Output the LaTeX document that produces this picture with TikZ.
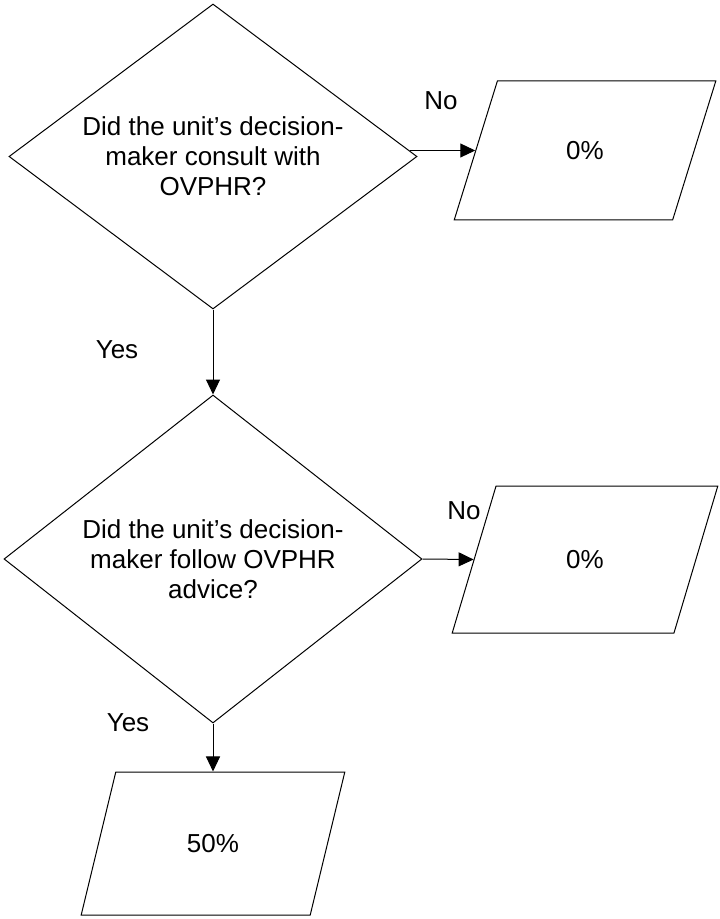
\documentclass[tikz,border=0pt]{standalone}
\usepackage{fontspec}
\setmainfont{Liberation Sans}
\usetikzlibrary{shapes.geometric,arrows.meta}
\tikzset{
  question/.style={diamond, draw=black, aspect=1.3, inner sep=0pt, align=center,
    font=\fontsize{13}{15}\selectfont},
  result/.style={trapezium, trapezium left angle=63.3, trapezium right angle=116.7,
    trapezium stretches=true, draw=black, inner sep=0pt, font=\fontsize{13}{15}\selectfont},
  answer/.style={font=\fontsize{13}{15}\selectfont},
  flow/.style={-{Triangle[length=7.5pt,width=7pt]}}
}
\begin{document}
\begin{tikzpicture}[x=0.5pt,y=-0.5pt,line width=0.5pt]
\useasboundingbox (0,0) rectangle (719,919);
\node[question, minimum width=204pt, minimum height=152.5pt] (q1) at (213,156.5)
  {Did the unit’s decision-\\maker consult with\\OVPHR?};
\node[question, minimum width=209pt, minimum height=164pt] (q2) at (213,559)
  {Did the unit’s decision-\\maker follow OVPHR\\advice?};
\node[result, minimum width=131pt, minimum height=69.5pt] (r1) at (585,150.5) {0\%};
\node[result, minimum width=133pt, minimum height=73.5pt] (r2) at (585,559.5) {0\%};
\node[result, minimum width=132pt, minimum height=71.5pt] (r3) at (213,843.5) {50\%};
\node[answer] (no1) at (441,101) {No};
\node[answer] (yes1) at (117,350) {Yes};
\node[answer] (no2) at (464,511) {No};
\node[answer] (yes2) at (128,723) {Yes};
\draw[flow, shorten <=-4pt] (q1.east |- r1.west) -- (r1.west);
\draw[flow] (q1.south) -- (q2.north);
\draw[flow] (q2.east) -- (r2.west);
\draw[flow] (q2.south) -- (r3);
\end{tikzpicture}
\end{document}
